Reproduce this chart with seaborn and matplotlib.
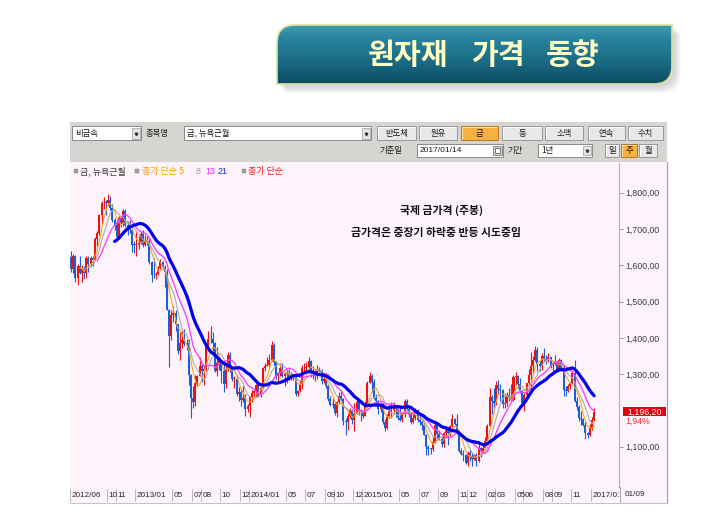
#!/usr/bin/env python3
"""
Commodity price trend screen: international gold price, weekly candles
with 5/8/13/21 simple moving averages of the close.
Output: out.png (710x532)
"""

import numpy as np
import pandas as pd
import matplotlib
matplotlib.use("Agg")
import matplotlib.pyplot as plt
import seaborn as sns
from matplotlib.patches import Rectangle, PathPatch
from matplotlib.path import Path
from matplotlib.colors import LinearSegmentedColormap
from matplotlib.ticker import FuncFormatter
from matplotlib.transforms import offset_copy

# ---------------------------------------------------------------- data
first_friday = "2012-06-08"   # first weekly bar (weeks end on Friday)

# weekly open / high / low / close, 2012/06 .. 2017/01
opens = [
    # 2012
    1622, 1591, 1627, 1566, 1598, 1579, 1591, 1580, 1620, 1603, 1620, 1616, 1672, 1688, 1739, 1771,
    1773, 1772, 1781, 1758, 1724, 1712, 1677, 1731, 1714, 1751, 1712, 1702, 1696, 1657, 1656,
    # 2013
    1656, 1662, 1687, 1657, 1667, 1668, 1609, 1573, 1572, 1577, 1592, 1608, 1596, 1581, 1477, 1406,
    1462, 1469, 1437, 1365, 1386, 1393, 1383, 1387, 1297, 1234, 1223, 1277, 1296, 1322, 1309, 1313,
    1377, 1396, 1396, 1387, 1308, 1332, 1337, 1310, 1272, 1315, 1352, 1315, 1288, 1288, 1244, 1251,
    1229, 1235, 1204, 1212,
    # 2014
    1238, 1248, 1254, 1270, 1240, 1263, 1318, 1323, 1326, 1339, 1379, 1334, 1294, 1303, 1318, 1294,
    1300, 1302, 1287, 1293, 1292, 1245, 1253, 1274, 1316, 1316, 1320, 1337, 1310, 1304, 1294, 1311,
    1306, 1280, 1287, 1268, 1231, 1216, 1218, 1192, 1222, 1239, 1231, 1171, 1169, 1185, 1201, 1175,
    1191, 1222, 1195, 1195,
    # 2015
    1186, 1217, 1277, 1294, 1279, 1234, 1227, 1203, 1212, 1167, 1152, 1182, 1199, 1201, 1207, 1203,
    1178, 1174, 1189, 1225, 1204, 1190, 1168, 1180, 1201, 1173, 1168, 1159, 1131, 1098, 1095, 1094,
    1113, 1159, 1134, 1121, 1108, 1137, 1145, 1137, 1156, 1177, 1162, 1142, 1088, 1081, 1076, 1056,
    1084, 1075, 1065, 1076,
    # 2016
    1060, 1097, 1089, 1097, 1116, 1157, 1238, 1227, 1221, 1270, 1259, 1255, 1217, 1220, 1243, 1234,
    1230, 1291, 1294, 1273, 1253, 1221, 1242, 1275, 1298, 1322, 1340, 1366, 1327, 1322, 1350, 1343,
    1339, 1346, 1324, 1327, 1333, 1310, 1338, 1317, 1257, 1254, 1267, 1276, 1304, 1225, 1209, 1178,
    1177, 1160, 1137, 1133,
    # 2017
    1152, 1173,
]
highs = [
    1640, 1632, 1628, 1605, 1626, 1601, 1599, 1625, 1625, 1626, 1625, 1677, 1695, 1741, 1777, 1788,
    1781, 1796, 1791, 1770, 1730, 1725, 1737, 1737, 1754, 1755, 1723, 1726, 1698, 1667, 1693,
    1680, 1694, 1697, 1684, 1681, 1674, 1612, 1619, 1582, 1597, 1617, 1611, 1601, 1590, 1480, 1478,
    1488, 1477, 1438, 1417, 1419, 1424, 1397, 1397, 1300, 1267, 1297, 1298, 1348, 1332, 1324, 1381,
    1419, 1434, 1416, 1390, 1375, 1345, 1337, 1327, 1325, 1361, 1362, 1323, 1294, 1296, 1264, 1255,
    1267, 1246, 1217, 1240,
    1255, 1257, 1272, 1272, 1272, 1320, 1332, 1346, 1355, 1392, 1387, 1336, 1307, 1332, 1331, 1306,
    1315, 1315, 1305, 1300, 1294, 1257, 1284, 1325, 1332, 1333, 1346, 1340, 1322, 1312, 1324, 1320,
    1313, 1296, 1296, 1272, 1239, 1234, 1223, 1226, 1250, 1255, 1235, 1179, 1193, 1208, 1203, 1220,
    1238, 1225, 1203, 1202,
    1225, 1282, 1307, 1300, 1287, 1245, 1230, 1220, 1224, 1176, 1189, 1219, 1224, 1224, 1209, 1207,
    1215, 1195, 1232, 1232, 1207, 1196, 1194, 1206, 1205, 1187, 1175, 1166, 1135, 1105, 1097, 1126,
    1170, 1169, 1147, 1126, 1140, 1157, 1146, 1161, 1191, 1178, 1191, 1142, 1096, 1091, 1081, 1089,
    1090, 1084, 1081, 1082,
    1111, 1100, 1110, 1128, 1162, 1263, 1242, 1263, 1281, 1284, 1272, 1258, 1247, 1252, 1263, 1272,
    1297, 1306, 1298, 1290, 1256, 1248, 1277, 1315, 1362, 1350, 1377, 1375, 1337, 1357, 1372, 1352,
    1358, 1347, 1331, 1352, 1336, 1345, 1343, 1326, 1266, 1274, 1279, 1308, 1338, 1237, 1216, 1199,
    1180, 1168, 1140, 1162,
    1182, 1207,
]
lows = [
    1582, 1580, 1553, 1547, 1576, 1554, 1563, 1566, 1581, 1598, 1597, 1615, 1653, 1684, 1718, 1755,
    1740, 1765, 1752, 1720, 1697, 1675, 1675, 1705, 1709, 1705, 1684, 1690, 1636, 1635, 1627,
    1645, 1660, 1650, 1652, 1655, 1603, 1554, 1565, 1562, 1572, 1590, 1590, 1539, 1476, 1321, 1395,
    1445, 1420, 1355, 1338, 1371, 1377, 1366, 1269, 1180, 1207, 1211, 1266, 1295, 1279, 1271, 1310,
    1363, 1387, 1364, 1307, 1295, 1311, 1277, 1251, 1262, 1310, 1305, 1281, 1262, 1241, 1226, 1211,
    1222, 1185, 1195, 1182,
    1222, 1236, 1236, 1238, 1238, 1262, 1309, 1322, 1321, 1335, 1323, 1287, 1277, 1295, 1291, 1268,
    1277, 1283, 1284, 1283, 1240, 1240, 1251, 1259, 1308, 1310, 1312, 1292, 1288, 1281, 1286, 1297,
    1273, 1275, 1262, 1225, 1212, 1207, 1188, 1183, 1219, 1226, 1161, 1131, 1145, 1180, 1162, 1142,
    1190, 1187, 1171, 1178,
    1185, 1215, 1276, 1250, 1232, 1215, 1191, 1195, 1162, 1142, 1148, 1180, 1178, 1191, 1183, 1175,
    1170, 1168, 1183, 1201, 1181, 1162, 1166, 1175, 1167, 1160, 1146, 1131, 1077, 1077, 1080, 1089,
    1111, 1118, 1118, 1098, 1098, 1124, 1105, 1129, 1153, 1159, 1136, 1086, 1077, 1062, 1052, 1046,
    1061, 1047, 1064, 1046,
    1058, 1072, 1082, 1094, 1111, 1156, 1191, 1208, 1216, 1246, 1225, 1208, 1208, 1211, 1225, 1227,
    1227, 1270, 1261, 1247, 1216, 1199, 1241, 1270, 1250, 1305, 1336, 1310, 1310, 1312, 1334, 1329,
    1333, 1316, 1305, 1324, 1306, 1309, 1310, 1241, 1241, 1250, 1260, 1273, 1224, 1201, 1171, 1161,
    1158, 1122, 1124, 1130,
    1146, 1171,
]
closes = [
    1591, 1627, 1566, 1598, 1579, 1591, 1580, 1620, 1603, 1620, 1616, 1672, 1688, 1739, 1771, 1773,
    1772, 1781, 1758, 1724, 1712, 1677, 1731, 1714, 1751, 1712, 1702, 1696, 1657, 1656, 1656,
    1662, 1687, 1657, 1667, 1668, 1609, 1573, 1572, 1577, 1592, 1608, 1596, 1581, 1477, 1406, 1462,
    1469, 1437, 1365, 1386, 1393, 1383, 1387, 1297, 1234, 1223, 1277, 1296, 1322, 1309, 1313, 1377,
    1396, 1396, 1387, 1308, 1332, 1337, 1310, 1272, 1315, 1352, 1315, 1288, 1288, 1244, 1251, 1229,
    1235, 1204, 1212, 1238,
    1248, 1254, 1270, 1240, 1263, 1318, 1323, 1326, 1339, 1379, 1334, 1294, 1303, 1318, 1294, 1300,
    1302, 1287, 1293, 1292, 1245, 1253, 1274, 1316, 1316, 1320, 1337, 1310, 1304, 1294, 1311, 1306,
    1280, 1287, 1268, 1231, 1216, 1218, 1192, 1222, 1239, 1231, 1171, 1169, 1185, 1201, 1175, 1191,
    1222, 1195, 1195, 1186,
    1217, 1277, 1294, 1279, 1234, 1227, 1203, 1212, 1167, 1152, 1182, 1199, 1201, 1207, 1203, 1178,
    1174, 1189, 1225, 1204, 1190, 1168, 1180, 1201, 1173, 1168, 1159, 1131, 1098, 1095, 1094, 1113,
    1159, 1134, 1121, 1108, 1137, 1145, 1137, 1156, 1177, 1162, 1142, 1088, 1081, 1076, 1056, 1084,
    1075, 1065, 1076, 1060,
    1097, 1089, 1097, 1116, 1157, 1238, 1227, 1221, 1270, 1259, 1255, 1217, 1220, 1243, 1234, 1230,
    1291, 1294, 1273, 1253, 1221, 1242, 1275, 1298, 1322, 1340, 1366, 1327, 1322, 1350, 1343, 1339,
    1346, 1324, 1327, 1333, 1310, 1338, 1317, 1257, 1254, 1267, 1276, 1304, 1225, 1209, 1178, 1177,
    1160, 1137, 1133, 1152,
    1173, 1196.2,
]

# moving averages of the close
ma_windows = [5, 8, 13, 21]
ma_colors = ["#ffa11a", "#a8a8a8", "#ff3cff", "#0000ee"]
ma_widths = [0.75, 0.75, 0.95, 2.3]

# x axis labels (first weekly bar of that month)
month_keys = ["2012-06", "2012-10", "2012-11", "2013-01", "2013-05", "2013-07", "2013-08",
              "2013-10", "2013-12", "2014-01", "2014-05", "2014-07", "2014-09", "2014-10",
              "2014-12", "2015-01", "2015-05", "2015-07", "2015-09", "2015-11", "2015-12",
              "2016-02", "2016-03", "2016-05", "2016-06", "2016-08", "2016-09", "2016-11",
              "2017-01"]
month_labels = ["2012/06", "10", "11", "2013/01", "05", "07", "08", "10", "12", "2014/01",
                "05", "07", "09", "10", "12", "2015/01", "05", "07", "09", "11", "12", "02",
                "03", "05", "06", "08", "09", "11", "2017/01"]
# 1,200 sits under the last-price tag, so its label is not shown
y_ticks = [1100, 1300, 1400, 1500, 1600, 1700, 1800]
last_change = "1,94%"
last_date_label = "01/09"

# texts
title_words = ["원자재", "가격", "동향"]
note_title = "국제 금가격 (주봉)"
note_text = "금가격은 중장기 하락중 반등 시도중임"
row1_buttons = ["반도체", "원유", "금", "동", "소맥", "연속", "수치"]
row2_buttons = ["일", "주", "월"]

# ---------------------------------------------------------------- style
sns.set_style("white")
plt.rcParams["font.family"] = ["Noto Sans CJK KR", "DejaVu Sans"]
NUM_FONT = ["Liberation Sans", "DejaVu Sans"]

W, H = 710, 532
RED = "#ee1111"
BLUE = "#1b5fd8"
CHART_BG = "#fdf3fb"
PANEL = "#d7d5d2"


def kr_price(v):
    return f"{v:,.2f}".replace(".", ",")


def leaf_path(x0, y0, x1, y1, r):
    verts = [(x0, y0 + r), (x0, y0), (x0 + r, y0), (x1, y0), (x1, y1 - r),
             (x1, y1), (x1 - r, y1), (x0, y1), (x0, y0 + r)]
    codes = [Path.MOVETO, Path.CURVE3, Path.CURVE3, Path.LINETO, Path.LINETO,
             Path.CURVE3, Path.CURVE3, Path.LINETO, Path.CLOSEPOLY]
    return Path(verts, codes)


fig = plt.figure(figsize=(W / 100, H / 100), dpi=100)
fig.patch.set_facecolor("white")

# pixel-coordinate background layer (banner, toolbar, panel)
ax_bg = fig.add_axes([0, 0, 1, 1], zorder=0)
ax_bg.set_axis_off()


def button(x0, x1, y0, y1, label, active=False):
    fc = "#f6b13e" if active else "#e8e8e8"
    ec = "#b06a10" if active else "#8c8c8c"
    ax_bg.add_patch(Rectangle((x0, y0), x1 - x0, y1 - y0, fc=fc, ec=ec, lw=0.6))
    ax_bg.plot([x0 + 0.8, x0 + 0.8, x1 - 0.8], [y1 - 0.8, y0 + 0.8, y0 + 0.8],
               color="#ffe9b8" if active else "white", lw=0.6)
    ax_bg.text((x0 + x1) / 2, (y0 + y1) / 2 + 0.3, label, ha="center", va="center",
               fontsize=6, color="#1a1a1a")


def combo(x0, x1, y0, y1, label):
    ax_bg.add_patch(Rectangle((x0, y0), x1 - x0, y1 - y0, fc="white", ec="#7a7a7a", lw=0.6))
    ax_bg.add_patch(Rectangle((x1 - 9, y0 + 1.5), 7.5, y1 - y0 - 3, fc="#e4e4e4",
                              ec="#9a9a9a", lw=0.5))
    ax_bg.plot([x1 - 5.2], [(y0 + y1) / 2 + 0.5], marker="v", ms=1.8, color="#333333")
    ax_bg.text(x0 + 3, (y0 + y1) / 2 + 0.3, label, ha="left", va="center",
               fontsize=6, color="#1a1a1a")


# title banner with shadow and gradient
bx0, by0, bx1, by1 = 277, 25, 672, 84
for k in range(5):
    d = 3 + k * 1.4
    ax_bg.add_patch(PathPatch(leaf_path(bx0 + d, by0 + d, bx1 + d, by1 + d, 18),
                              fc="#9a9a9a", ec="none", alpha=0.09))
banner = PathPatch(leaf_path(bx0, by0, bx1, by1, 18), fc="none", ec="#d2e6a2", lw=1.2, zorder=3)
ax_bg.add_patch(banner)
cmap = LinearSegmentedColormap.from_list(
    "banner", [(0, "#3f9db0"), (0.2, "#2a85a0"), (0.6, "#1b6c86"), (1, "#0e4b63")])
grad = ax_bg.imshow(np.linspace(0, 1, 64)[:, None], cmap=cmap, aspect="auto",
                    extent=(bx0, bx1, by1, by0), origin="upper", zorder=2)
grad.set_clip_path(banner)
for word, cx in zip(title_words, [408, 498, 573]):
    ax_bg.text(cx, 55, word, ha="center", va="center", fontsize=21, fontweight="bold",
               color="#ffffc4", zorder=4)

# toolbar
ax_bg.add_patch(Rectangle((70, 122), 597, 40, fc=PANEL, ec="none"))
combo(72, 141, 126, 140, "비금속")
ax_bg.text(146, 133.3, "종목명", ha="left", va="center", fontsize=6, color="#1a1a1a")
combo(184, 371, 126, 140, "금, 뉴욕근월")
for label, (x0, x1) in zip(row1_buttons, [(377, 416), (419, 457), (461, 498), (502, 542),
                                          (545, 583), (588, 625), (628, 663)]):
    button(x0, x1, 126, 140, label, active=(label == "금"))
ax_bg.text(402, 150.3, "기준일", ha="right", va="center", fontsize=6, color="#1a1a1a")
ax_bg.add_patch(Rectangle((417, 144), 86, 12.5, fc="white", ec="#7a7a7a", lw=0.6))
ax_bg.text(420, 150.5, "2017/01/14", ha="left", va="center", fontsize=6,
           family=NUM_FONT, color="#1a1a1a")
ax_bg.add_patch(Rectangle((493, 145.5), 8.5, 9.5, fc="#d8d8d8", ec="#666666", lw=0.5))
ax_bg.add_patch(Rectangle((495, 148), 4.5, 5, fc="white", ec="#444444", lw=0.5))
ax_bg.text(507, 150.3, "기간", ha="left", va="center", fontsize=6, color="#1a1a1a")
combo(538, 592, 144, 156.5, "1년")
for label, (x0, x1) in zip(row2_buttons, [(605, 619), (621, 637), (639, 657)]):
    button(x0, x1, 144, 157, label, active=(label == "주"))

# chart panel
ax_bg.add_patch(Rectangle((70, 162), 597, 341, fc=CHART_BG, ec="none"))
ax_bg.plot([666.5, 666.5], [162, 503], color="#a0a0a0", lw=0.8)
ax_bg.plot([70, 667], [502.5, 502.5], color="#b8b8b8", lw=0.6)
ax_bg.plot([619.5, 619.5], [487, 502], color="#a8a8a8", lw=0.7)

# legend row
legend_items = [
    (74, "금, 뉴욕근월", "#404040", True),
    (135, "종가 단순 5", "#ff9a00", True),
    (196, "8", "#a0a0a0", False),
    (205, "13", "#ff22ff", False),
    (218, "21", "#2222ff", False),
    (242, "종가 단순", "#ff1a1a", True),
]
for x, text, color, with_box in legend_items:
    tx = x
    if with_box:
        ax_bg.add_patch(Rectangle((x, 169.2), 3.6, 3.6, fc="#a0a0a0", ec="#808080", lw=0.3))
        tx = x + 6.5
    ax_bg.text(tx, 171.3, text, ha="left", va="center", fontsize=6.5, color=color,
               family=NUM_FONT if not with_box else None)

# notes in the chart
ax_bg.text(442, 210, note_title, ha="center", va="center", fontsize=7.8,
           fontweight="bold", color="#111111")
ax_bg.text(436, 233, note_text, ha="center", va="center", fontsize=7.8,
           fontweight="bold", color="#111111")

ax_bg.set_xlim(0, W)
ax_bg.set_ylim(H, 0)

# ---------------------------------------------------------------- chart
ax = fig.add_axes([70 / W, 1 - 487 / H, 549 / W, 324 / H], zorder=1)
ax.set_facecolor("none")

df = pd.DataFrame({
    "date": pd.date_range(first_friday, periods=len(closes), freq="W-FRI"),
    "open": opens, "high": highs, "low": lows, "close": closes,
})
df["idx"] = np.arange(len(df))

up = df["close"] >= df["open"]
for mask, color in [(up, RED), (~up, BLUE)]:
    sub = df[mask]
    ax.vlines(sub["idx"], sub["low"], sub["high"], color=color, lw=0.8, zorder=2)
    body = (sub["close"] - sub["open"]).abs().clip(lower=2)
    ax.bar(sub["idx"], body, bottom=sub[["open", "close"]].min(axis=1), width=0.92,
           color=color, lw=0, zorder=2)

for win, color, lw in zip(ma_windows, ma_colors, ma_widths):
    ma = pd.DataFrame({"idx": df["idx"], "ma": df["close"].rolling(win).mean()}).dropna()
    sns.lineplot(data=ma, x="idx", y="ma", color=color, linewidth=lw, estimator=None,
                 legend=False, ax=ax, zorder=3)

ax.set_xlim(-0.46, 251.4)
ax.set_ylim(989, 1882)
ax.set_xlabel("")
ax.set_ylabel("")
ax.set_xticks([])
ax.set_yticks(y_ticks)
ax.yaxis.set_major_formatter(FuncFormatter(lambda v, p: kr_price(v)))
ax.tick_params(axis="y", left=False, right=True, labelleft=False, labelright=True,
               direction="out", length=3, width=0.6, color="#8a8a8a", pad=1.2,
               labelsize=6.3, labelcolor="#3c3c3c", labelfontfamily="Liberation Sans")
for side in ["top", "left", "bottom"]:
    ax.spines[side].set_visible(False)
ax.spines["right"].set_color("#a8a8a8")
ax.spines["right"].set_linewidth(0.8)
ax.spines["right"].set_linestyle((0, (1, 1.2)))

# month labels in the strip under the plot
xt = ax.get_xaxis_transform()
label_tr = offset_copy(xt, fig=fig, x=1.6, y=0, units="dots")
strip_clip = Rectangle((70, 486), 549, 18, transform=ax_bg.transData)
ym = df["date"].dt.strftime("%Y-%m")
for key, lab in zip(month_keys, month_labels):
    i = int(np.flatnonzero(ym.values == key)[0])
    ax.plot([i - 0.5, i - 0.5], [-0.006, -0.044], transform=xt, color="#b0b0b0",
            lw=0.6, clip_on=False)
    t = ax.text(i - 0.5, -0.025, lab, transform=label_tr, ha="left", va="center",
                fontsize=5.9, family=NUM_FONT, color="#2a2a2a", clip_on=True)
    t.set_clip_path(strip_clip)

# last price tag on the axis
ax_top = fig.add_axes([0, 0, 1, 1], zorder=2)
ax_top.set_axis_off()
ax_top.set_xlim(0, W)
ax_top.set_ylim(H, 0)
last_y = H - ax.transData.transform((0, closes[-1]))[1]
ax_top.add_patch(Rectangle((623, last_y - 4.6), 43, 9.2, fc="#e6000f", ec="none"))
ax_top.text(644.5, last_y + 0.2, kr_price(closes[-1]), ha="center", va="center",
            fontsize=6.3, family=NUM_FONT, color="white")
ax_top.text(625, last_y + 9.5, last_change, ha="left", va="center", fontsize=6.3,
            family=NUM_FONT, color="#ff3030")
ax_top.text(625, 495, last_date_label, ha="left", va="center", fontsize=5.9,
            family=NUM_FONT, color="#2a2a2a")

fig.savefig("out.png", dpi=100)
plt.close(fig)
